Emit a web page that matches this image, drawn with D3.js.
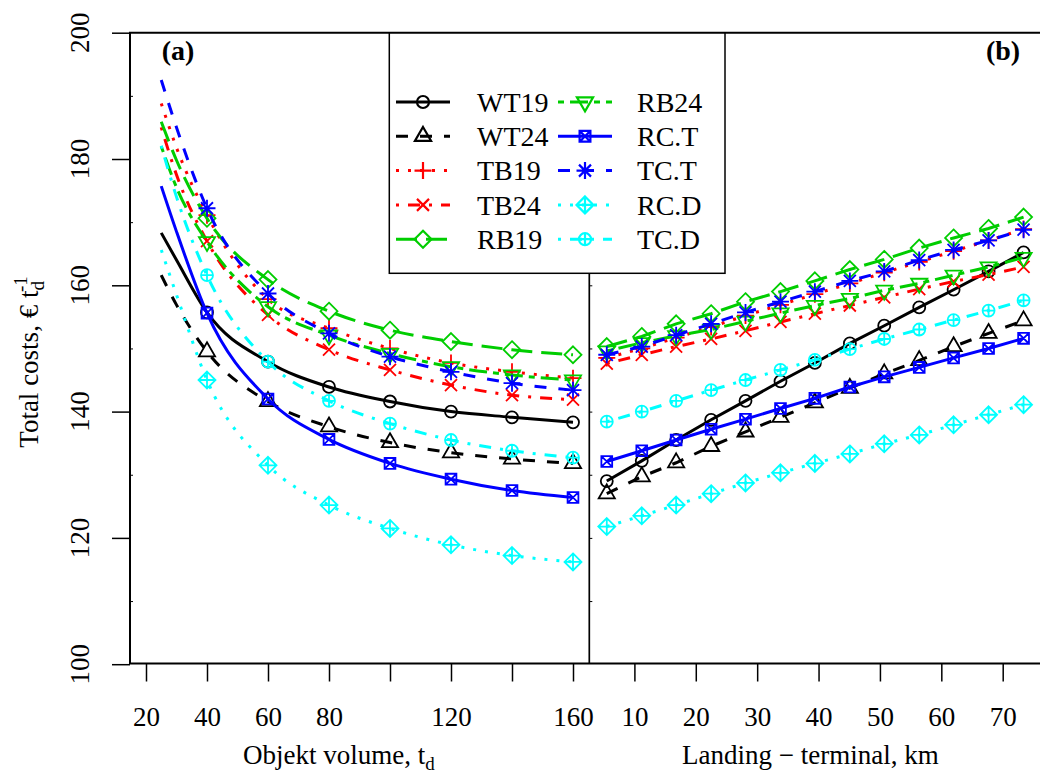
<!DOCTYPE html>
<html>
<head>
<meta charset="utf-8">
<script src="https://cdn.jsdelivr.net/npm/d3@7.9.0/dist/d3.min.js"></script>
<style>
  body { margin: 0; background: #fff; }
  svg text { font-family: "Liberation Serif", "Times New Roman", serif; fill: #000; }
</style>
</head>
<body>
<svg width="1040" height="776"></svg>
<script>
// series meta
const seriesNames = ["WT19", "WT24", "TB19", "TB24", "RB19", "RB24", "RC.T", "TC.T", "RC.D", "TC.D"];
const seriesColors = ["#000000", "#000000", "#ff0000", "#ff0000", "#00cd00", "#00cd00", "#0000ff", "#0000ff", "#00ffff", "#00ffff"];
const seriesLty = [1, 2, 3, 4, 5, 6, 1, 2, 3, 4];
const seriesPch = [1, 2, 3, 4, 5, 6, 7, 8, 9, 10];

// panel (a): object volume
const volume = [25, 30, 40, 60, 80, 100, 120, 140, 160];
const volumeMarked = [40, 60, 80, 100, 120, 140, 160];
const volWT19 = [168.3, 164.0, 155.7, 147.9, 143.9, 141.6, 140.0, 139.1, 138.3];
const volWT24 = [161.6, 156.9, 149.5, 141.6, 137.6, 135.1, 133.5, 132.5, 131.8];
const volTB19 = [188.8, 181.8, 171.1, 157.8, 153.2, 150.0, 147.7, 146.3, 145.3];
const volTB24 = [185.0, 177.5, 167.0, 155.3, 149.8, 146.6, 144.2, 142.6, 141.9];
const volRB19 = [185.9, 179.8, 170.6, 160.9, 155.9, 152.9, 151.1, 149.8, 149.0];
const volRB24 = [182.0, 175.5, 166.9, 156.6, 152.1, 149.2, 147.1, 145.8, 145.0];
const volRCT  = [175.7, 168.5, 155.6, 142.0, 135.6, 131.8, 129.3, 127.5, 126.4];
const volTCT  = [192.5, 185.0, 172.2, 158.7, 152.4, 148.7, 146.3, 144.5, 143.4];
const volRCD  = [165.6, 158.5, 145.0, 131.5, 125.2, 121.5, 118.9, 117.2, 116.2];
const volTCD  = [182.1, 174.0, 161.6, 147.9, 141.7, 138.1, 135.5, 133.8, 132.7];

// panel (b): landing - terminal distance
const distance = [5.5, 11.2, 16.8, 22.5, 28.1, 33.8, 39.4, 45.1, 50.7, 56.4, 62.0, 67.7, 73.4];
const distWT19 = [129.0, 132.2, 135.5, 138.7, 141.7, 144.8, 147.7, 150.8, 153.6, 156.5, 159.3, 162.2, 165.2];
const distWT24 = [127.0, 129.7, 131.9, 134.5, 136.8, 139.1, 141.4, 143.7, 146.0, 148.1, 150.3, 152.4, 154.4];
const distTB19 = [148.5, 150.0, 151.7, 153.4, 155.2, 156.9, 158.6, 160.3, 162.0, 163.7, 165.4, 167.1, 168.9];
const distTB24 = [147.6, 149.0, 150.3, 151.5, 152.8, 154.2, 155.5, 156.8, 158.1, 159.4, 160.6, 161.7, 162.9];
const distRB19 = [150.3, 151.9, 153.9, 155.5, 157.4, 159.0, 160.7, 162.5, 164.1, 165.9, 167.5, 169.0, 170.8];
const distRB24 = [149.6, 150.9, 152.0, 153.0, 154.3, 155.6, 156.8, 157.9, 159.2, 160.3, 161.6, 162.9, 164.4];
const distRCT  = [132.1, 133.8, 135.5, 137.2, 138.8, 140.5, 142.1, 143.9, 145.5, 147.0, 148.5, 150.0, 151.6];
const distTCT  = [149.0, 150.3, 152.1, 153.9, 155.7, 157.4, 159.0, 160.7, 162.2, 164.0, 165.6, 167.1, 168.8];
const distRCD  = [121.8, 123.5, 125.2, 127.0, 128.7, 130.3, 131.8, 133.3, 134.9, 136.3, 137.9, 139.5, 141.1];
const distTCD  = [138.4, 140.0, 141.7, 143.4, 145.0, 146.6, 148.2, 149.9, 151.5, 153.0, 154.5, 156.0, 157.6];

// ticks
const yTicks = [100, 120, 140, 160, 180, 200];
const yMinorTicks = [110, 130, 150, 170, 190];
const yInnerTicks = [110, 120, 130, 140, 150, 160, 170, 180, 190];
const xTicksA = [20, 40, 60, 80, 100, 120, 140, 160];
const xLabelsA = [20, 40, 60, 80, 120, 160];
const xTicksB = [10, 20, 30, 40, 50, 60, 70];

const volumeCosts = [volWT19, volWT24, volTB19, volTB24, volRB19, volRB24, volRCT, volTCT, volRCD, volTCD];
const distanceCosts = [distWT19, distWT24, distTB19, distTB24, distRB19, distRB24, distRCT, distTCT, distRCD, distTCD];

const svg = d3.select('svg');
const plotTop = 32.7, plotBottom = 663.5, plotLeft = 130, divider = 589.3, plotRight = 1042;

const y = d3.scaleLinear().domain([100, 200]).range([664.2, 32.7]);
const xA = d3.scaleLinear().domain([20, 160]).range([146, 573]);
const xB = d3.scaleLinear().domain([10, 70]).range([634.4, 1002.7]);

const LW = 3;
const dashes = {1: null, 2: [4, 4], 3: [1, 3], 4: [1, 3, 4, 3], 5: [7, 3], 6: [2, 2, 6, 2]};
function dashArray(lty) {
    const d = dashes[lty];
    return d ? d.map(v => v * LW).join(',') : null;
}

function markerPath(pch) {
    const r = 6, s = Math.SQRT2 * r, q = 5.4;
    const circle = rr => `M${-rr},0a${rr},${rr} 0 1,0 ${2 * rr},0a${rr},${rr} 0 1,0 ${-2 * rr},0Z`;
    const plus = h => `M${-h},0H${h}M0,${-h}V${h}`;
    const cross = h => `M${-h},${-h}L${h},${h}M${-h},${h}L${h},${-h}`;
    const diamond = `M0,${-s}L${s},0L0,${s}L${-s},0Z`;
    switch (pch) {
        case 1: return circle(r);
        case 2: return `M0,${-1.555 * r}L${1.347 * r},${0.778 * r}L${-1.347 * r},${0.778 * r}Z`;
        case 3: return plus(s);
        case 4: return cross(r);
        case 5: return diamond;
        case 6: return `M0,${1.555 * r}L${1.347 * r},${-0.778 * r}L${-1.347 * r},${-0.778 * r}Z`;
        case 7: return `M${-q},${-q}H${q}V${q}H${-q}Z` + cross(q);
        case 8: return plus(s) + cross(r);
        case 9: return diamond + plus(s);
        case 10: return circle(r) + plus(r);
    }
}

// frame and divider
svg.append('line').attr('x1', divider).attr('x2', divider).attr('y1', plotTop).attr('y2', plotBottom)
    .attr('stroke', '#000').attr('stroke-width', 1.7);
svg.append('path')
    .attr('d', `M${plotRight},${plotTop}H${plotLeft}V${plotBottom}H${plotRight}`)
    .attr('fill', 'none').attr('stroke', '#000').attr('stroke-width', 2);

// y axis
const yAxis = svg.append('g').attr('transform', `translate(${plotLeft},0)`)
    .call(d3.axisLeft(y).tickValues(yTicks).tickSize(18).tickFormat(''));
yAxis.select('.domain').remove();
yAxis.selectAll('line').attr('stroke-width', 1.5);
svg.append('g').attr('transform', `translate(${plotLeft},0)`)
    .call(d3.axisRight(y).tickValues(yMinorTicks).tickSize(3).tickFormat(''))
    .call(g => g.select('.domain').remove());
svg.append('g').attr('transform', `translate(${divider},0)`)
    .call(d3.axisRight(y).tickValues(yInnerTicks).tickSize(3).tickFormat(''))
    .call(g => g.select('.domain').remove());

svg.append('g').selectAll('text').data(yTicks).join('text')
    .attr('transform', d => `translate(89,${y(d)}) rotate(-90)`)
    .attr('text-anchor', 'middle')
    .attr('font-size', 27)
    .text(d => d);

// x axes
const xAxisA = svg.append('g').attr('transform', `translate(0,${plotBottom})`)
    .call(d3.axisBottom(xA).tickValues(xTicksA).tickSize(18).tickPadding(25)
        .tickFormat(d => xLabelsA.includes(d) ? d : ''));
const xAxisB = svg.append('g').attr('transform', `translate(0,${plotBottom})`)
    .call(d3.axisBottom(xB).tickValues(xTicksB).tickSize(18).tickPadding(25));
[xAxisA, xAxisB].forEach(g => {
    g.select('.domain').remove();
    g.selectAll('line').attr('stroke-width', 1.5);
    g.selectAll('text').attr('font-size', 27).attr('font-family', '"Liberation Serif", serif');
});

// axis titles
const titleA = svg.append('text').attr('x', 243).attr('y', 764).attr('font-size', 27);
titleA.append('tspan').text('Objekt volume, t');
titleA.append('tspan').attr('dy', 6).attr('font-size', 19).text('d');

svg.append('text').attr('x', 682).attr('y', 764).attr('font-size', 27)
    .text('Landing \u2212 terminal, km');

const titleY = svg.append('text')
    .attr('transform', 'translate(38,362) rotate(-90)')
    .attr('text-anchor', 'middle')
    .attr('font-size', 27);
titleY.append('tspan').text('Total costs, \u20ac t');
titleY.append('tspan').attr('dy', 6).attr('font-size', 19).text('d');
titleY.append('tspan').attr('dx', -11).attr('dy', -17).attr('font-size', 19).text('-1');

// panel labels
svg.append('text').attr('x', 178).attr('y', 60).attr('text-anchor', 'middle')
    .attr('font-size', 28).attr('font-weight', 'bold').text('(a)');
svg.append('text').attr('x', 1003).attr('y', 60).attr('text-anchor', 'middle')
    .attr('font-size', 28).attr('font-weight', 'bold').text('(b)');

// series
const lineA = d3.line().x((d, i) => xA(volume[i])).y(d => y(d)).curve(d3.curveMonotoneX);
const lineB = d3.line().x((d, i) => xB(distance[i])).y(d => y(d));

const plotA = svg.append('g');
const plotB = svg.append('g');

seriesNames.forEach((name, k) => {
    const col = seriesColors[k];
    plotA.append('path')
        .attr('d', lineA(volumeCosts[k]))
        .attr('fill', 'none').attr('stroke', col).attr('stroke-width', LW)
        .attr('stroke-dasharray', dashArray(seriesLty[k]));
    const ptsA = volume.map((v, i) => ({x: v, c: volumeCosts[k][i]})).filter(p => volumeMarked.includes(p.x));
    plotA.append('g').selectAll('path').data(ptsA).join('path')
        .attr('transform', p => `translate(${xA(p.x)},${y(p.c)})`)
        .attr('d', markerPath(seriesPch[k]))
        .attr('fill', 'none').attr('stroke', col).attr('stroke-width', 1.8);
});

seriesNames.forEach((name, k) => {
    const col = seriesColors[k];
    plotB.append('path')
        .attr('d', lineB(distanceCosts[k]))
        .attr('fill', 'none').attr('stroke', col).attr('stroke-width', LW)
        .attr('stroke-dasharray', dashArray(seriesLty[k]));
    plotB.append('g').selectAll('path').data(distanceCosts[k]).join('path')
        .attr('transform', (c, i) => `translate(${xB(distance[i])},${y(c)})`)
        .attr('d', markerPath(seriesPch[k]))
        .attr('fill', 'none').attr('stroke', col).attr('stroke-width', 1.8);
});

// legend
const legend = svg.append('g');
legend.append('rect').attr('x', 389.3).attr('y', 33).attr('width', 335.7).attr('height', 240.3)
    .attr('fill', '#fff').attr('stroke', '#000').attr('stroke-width', 1.5);
const legCols = [{x0: 396, x1: 450, tx: 477}, {x0: 558, x1: 612, tx: 637}];
seriesNames.forEach((name, k) => {
    const c = legCols[Math.floor(k / 5)];
    const ry = 102 + (k % 5) * 34.3;
    const col = seriesColors[k];
    legend.append('line').attr('x1', c.x0).attr('x2', c.x1).attr('y1', ry).attr('y2', ry)
        .attr('stroke', col).attr('stroke-width', LW)
        .attr('stroke-dasharray', dashArray(seriesLty[k]));
    legend.append('path').attr('transform', `translate(${(c.x0 + c.x1) / 2},${ry})`)
        .attr('d', markerPath(seriesPch[k]))
        .attr('fill', 'none').attr('stroke', col).attr('stroke-width', 2.2);
    legend.append('text').attr('x', c.tx).attr('y', ry + 9.6).attr('font-size', 28).text(name);
});
</script>
</body>
</html>
